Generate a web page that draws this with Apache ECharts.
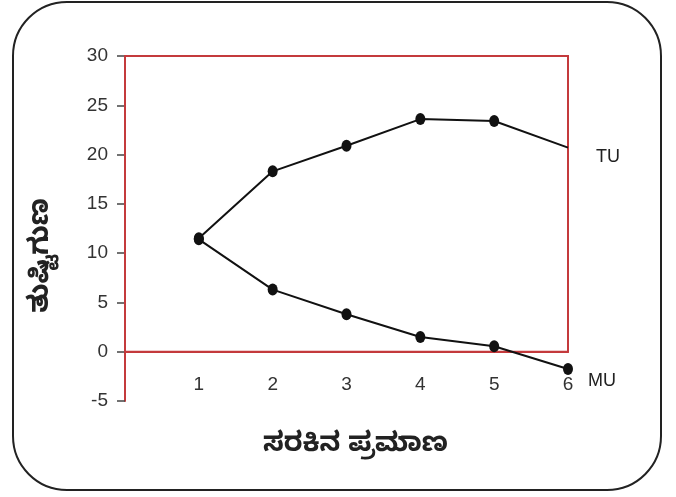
<!DOCTYPE html>
<html>
<head>
<meta charset="utf-8">
<script src="https://cdn.jsdelivr.net/npm/echarts@6/dist/echarts.min.js"></script>
<style>
html,body{margin:0;padding:0;background:#fff;}
#chart{width:676px;height:497px;}
</style>
</head>
<body>
<div id="chart"></div>
<script>
// Data
const quantities = [1, 2, 3, 4, 5, 6];
const tuValues = [11.5, 18.3, 20.9, 23.6, 23.4, 20.7];
const muValues = [11.4, 6.3, 3.8, 1.5, 0.55, -1.75];
const yTicks = [-5, 0, 5, 10, 15, 20, 25, 30];
const seriesNames = ['TU', 'MU'];
const xAxisTitle = 'ಸರಕಿನ ಪ್ರಮಾಣ';
const yAxisTitle = 'ತುಷ್ಟಿಗುಣ';

const RED = '#c43a3c';
const font = '"Liberation Sans", Arial, sans-serif';
const kFont = '"Noto Sans Kannada", "Noto Sans", sans-serif';

const chart = echarts.init(document.getElementById('chart'));

function pts(vals, hideLast) {
  return vals.map((v, i) => {
    const item = { value: [quantities[i], v] };
    if (hideLast && i === vals.length - 1) item.symbol = 'none';
    return item;
  });
}

chart.setOption({
  backgroundColor: '#fff',
  animation: false,
  graphic: [{
    type: 'rect',
    shape: { x: 13, y: 2, width: 648, height: 488, r: 54 },
    style: { fill: 'none', stroke: '#222', lineWidth: 2 },
    z: -1
  }],
  grid: { left: 125, right: 108, top: 56, bottom: 96, outerBoundsMode: 'none', containLabel: false },
  xAxis: {
    type: 'value',
    min: 0, max: 6, interval: 1,
    name: xAxisTitle,
    nameLocation: 'middle',
    nameGap: 34,
    nameTextStyle: { fontSize: 27, fontWeight: 'bold', color: '#222', fontFamily: kFont, padding: [0, 0, 0, 18] },
    axisLine: { onZero: true, lineStyle: { color: RED, width: 2 } },
    axisTick: { show: false },
    splitLine: { show: false },
    axisLabel: {
      margin: -26, fontSize: 19, color: '#333', fontFamily: font,
      formatter: v => (v === 0 ? '' : String(v))
    }
  },
  yAxis: {
    type: 'value',
    min: yTicks[0], max: yTicks[yTicks.length - 1], interval: 5,
    name: yAxisTitle,
    nameLocation: 'middle',
    nameGap: 66,
    nameRotate: 90,
    nameTextStyle: { fontSize: 28, fontWeight: 'bold', color: '#222', fontFamily: kFont, padding: [0, 54, 0, 0] },
    axisLine: { onZero: false, lineStyle: { color: RED, width: 2 } },
    axisTick: { show: true, length: 8, lineStyle: { color: '#444', width: 1.5 } },
    splitLine: { show: false },
    axisLabel: { margin: 17, fontSize: 19, color: '#333', fontFamily: font }
  },
  series: [
    {
      name: seriesNames[0],
      type: 'line',
      data: pts(tuValues, true),
      symbol: 'circle',
      symbolSize: [10, 12],
      lineStyle: { color: '#111', width: 2 },
      itemStyle: { color: '#111' },
      endLabel: {
        show: true, formatter: '{a}', offset: [20, 9],
        fontSize: 18, color: '#222', fontFamily: font
      },
      markArea: {
        silent: true,
        itemStyle: { color: 'rgba(0,0,0,0)', borderColor: RED, borderWidth: 2 },
        data: [[{ coord: [0, 0] }, { coord: [6, 30] }]]
      },
      z: 3
    },
    {
      name: seriesNames[1],
      type: 'line',
      data: pts(muValues, false),
      symbol: 'circle',
      symbolSize: [10, 12],
      lineStyle: { color: '#111', width: 2 },
      itemStyle: { color: '#111' },
      endLabel: {
        show: true, formatter: '{a}', offset: [12, 12],
        fontSize: 18, color: '#222', fontFamily: font
      },
      z: 3
    }
  ]
});
</script>
</body>
</html>
